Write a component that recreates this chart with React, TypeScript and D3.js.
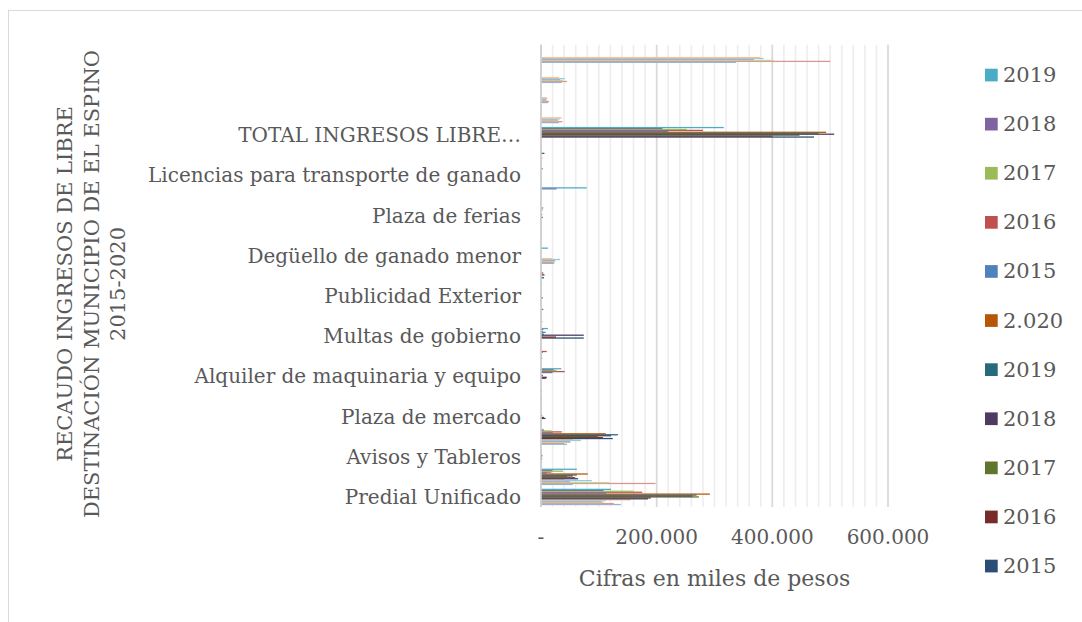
import React from 'react';
import * as d3 from 'd3';

// categorias de abajo hacia arriba (Excel solo muestra una de cada dos)
const categorias = [
  'Predial Unificado', '', 'Avisos y Tableros', '', 'Plaza de mercado', '',
  'Alquiler de maquinaria y equipo', '', 'Multas de gobierno', '', 'Publicidad Exterior', '',
  'Degüello de ganado menor', '', 'Plaza de ferias', '', 'Licencias para transporte de ganado', '',
  'TOTAL INGRESOS LIBRE…', '', '', '', '',
];

// serie: tonos claros (primeras en la grafica, abajo de cada grupo)
const claro2015 = [138000, 55000, 0, 45000, 0, 0, 0, 0, 0, 0, 0, 2000, 23000, 0, 0, 0, 0, 0, 0, 31000, 12000, 36000, 337000];
const claro2016 = [126000, 198000, 0, 40000, 0, 0, 0, 0, 0, 0, 0, 0, 22000, 0, 0, 0, 0, 0, 0, 37000, 14000, 45000, 500000];
const claro2017 = [108000, 118000, 2000, 52000, 0, 0, 0, 0, 0, 3000, 0, 0, 25000, 0, 0, 0, 0, 0, 0, 30000, 10000, 38000, 402000];
const claro2018 = [105000, 50000, 0, 50000, 0, 0, 0, 0, 0, 0, 0, 0, 24000, 0, 0, 0, 0, 0, 0, 29000, 9000, 33000, 368000];
const claro2019 = [112000, 88000, 1000, 69000, 0, 0, 0, 0, 0, 0, 0, 0, 33000, 0, 0, 0, 0, 0, 0, 33000, 11000, 41000, 385000];
const claro2020 = [155000, 40000, 0, 55000, 0, 0, 0, 0, 0, 0, 0, 0, 20000, 0, 0, 0, 0, 3000, 0, 36000, 10000, 31000, 379000];
// tonos oscuros
const oscuro2015 = [185000, 64000, 2000, 124000, 8000, 1000, 9000, 2000, 74000, 0, 3000, 5000, 0, 0, 3000, 0, 0, 0, 472000, 0, 0, 0, 0];
const oscuro2016 = [190000, 59000, 1000, 107000, 5000, 0, 10000, 0, 26000, 0, 0, 0, 0, 0, 0, 0, 0, 0, 400000, 0, 0, 0, 0];
const oscuro2017 = [273000, 45000, 0, 98000, 0, 0, 2000, 0, 3000, 0, 0, 0, 0, 0, 0, 0, 0, 0, 447000, 0, 0, 0, 0];
const oscuro2018 = [262000, 55000, 2500, 121000, 2000, 0, 3000, 1000, 74000, 0, 0, 6000, 0, 0, 2000, 0, 0, 0, 507000, 0, 0, 0, 0];
const oscuro2019 = [269000, 62000, 1500, 133000, 0, 0, 0, 0, 5000, 0, 0, 0, 0, 0, 0, 0, 0, 6000, 480000, 0, 0, 0, 0];
const oscuro2020 = [292000, 81000, 0, 112000, 0, 0, 0, 0, 2000, 0, 0, 4000, 0, 0, 0, 0, 0, 0, 493000, 0, 0, 0, 0];
// tonos base
const base2015 = [113000, 10000, 0, 20000, 0, 0, 20000, 3000, 8000, 0, 0, 0, 0, 0, 0, 0, 0, 0, 220000, 0, 0, 0, 0];
const base2016 = [175000, 18000, 1000, 36000, 0, 0, 41000, 10000, 3000, 0, 0, 0, 0, 0, 0, 0, 0, 0, 280000, 0, 0, 0, 0];
const base2017 = [160000, 38000, 0, 18000, 0, 2000, 27000, 0, 0, 0, 0, 0, 0, 0, 3000, 0, 0, 0, 252000, 0, 0, 0, 0];
const base2018 = [108000, 20000, 0, 5000, 0, 0, 22000, 0, 4000, 4000, 0, 0, 0, 0, 0, 27000, 3000, 0, 210000, 0, 0, 0, 0];
const base2019 = [121000, 62000, 0, 2000, 1500, 0, 35000, 0, 12000, 0, 0, 0, 12000, 0, 4000, 79000, 0, 0, 316000, 0, 0, 0, 0];

const series = [
  { name: '2015', color: '#95B3D7', values: claro2015 },
  { name: '2016', color: '#D99694', values: claro2016 },
  { name: '2017', color: '#C3D69B', values: claro2017 },
  { name: '2018', color: '#B3A2C7', values: claro2018 },
  { name: '2019', color: '#93CDDD', values: claro2019 },
  { name: '2.020', color: '#FAC090', values: claro2020 },
  { name: '2015', color: '#2C4D75', values: oscuro2015 },
  { name: '2016', color: '#772C2A', values: oscuro2016 },
  { name: '2017', color: '#5F7530', values: oscuro2017 },
  { name: '2018', color: '#4D3B62', values: oscuro2018 },
  { name: '2019', color: '#276A7C', values: oscuro2019 },
  { name: '2.020', color: '#B65708', values: oscuro2020 },
  { name: '2015', color: '#4F81BD', values: base2015 },
  { name: '2016', color: '#C0504D', values: base2016 },
  { name: '2017', color: '#9BBB59', values: base2017 },
  { name: '2018', color: '#8064A2', values: base2018 },
  { name: '2019', color: '#4BACC6', values: base2019 },
];

// la leyenda solo alcanza a mostrar 11 entradas (de arriba hacia abajo)
const leyenda = [16, 15, 14, 13, 12, 11, 10, 9, 8, 7, 6];

const ejeMax = 600000;
const tituloY = ['RECAUDO INGRESOS DE LIBRE', 'DESTINACIÓN MUNICIPIO DE EL ESPINO', '2015-2020'];

const font = '"DejaVu Serif", serif';
const gris = '#595959';

const fmt = d3.formatLocale({ decimal: ',', thousands: '.', grouping: [3], currency: ['', ''] }).format(',.0f');

export default function App() {
  const plot = { left: 541, right: 888, top: 44.7, bottom: 507 };

  const x = d3.scaleLinear().domain([0, ejeMax]).range([plot.left, plot.right]);
  const y = d3.scaleBand<number>()
    .domain(d3.range(categorias.length))
    .range([plot.bottom, plot.top]);
  const yS = d3.scaleBand<number>()
    .domain(d3.range(series.length))
    .range([y.bandwidth(), 0])
    .paddingOuter(2.1);
  const grosor = yS.bandwidth() * 1.35;

  const minor = d3.range(0, ejeMax + 1, 20000);
  const major = d3.range(0, ejeMax + 1, 200000);

  return (
    <svg width={1082} height={622} style={{ position: 'absolute', left: 0, top: 0, background: '#fff' }}>
      <rect x={8.5} y={10.5} width={1080} height={620} fill="#fff" stroke="#D9D9D9" />

      {minor.map(v => (
        <line key={'m' + v} x1={x(v)} x2={x(v)} y1={plot.top} y2={plot.bottom}
          stroke="#EDEDED" strokeWidth={1.6} />
      ))}
      {major.map(v => (
        <line key={'M' + v} x1={x(v)} x2={x(v)} y1={plot.top} y2={plot.bottom}
          stroke="#D9D9D9" strokeWidth={1.6} />
      ))}

      {series.map((s, k) => (
        <g key={k} fill={s.color}>
          {s.values.map((v, i) => v > 0 && (
            <rect key={i} x={x(0)} y={(y(i) ?? 0) + (yS(k) ?? 0) - (grosor - yS.bandwidth()) / 2}
              width={x(v) - x(0)} height={grosor} />
          ))}
        </g>
      ))}

      <line x1={x(0)} x2={x(0)} y1={plot.top} y2={plot.bottom} stroke="#D0D0D0" strokeWidth={1.6} />

      {categorias.map((c, i) => i % 2 === 0 && c && (
        <text key={i} x={521} y={(y(i) ?? 0) + y.bandwidth() / 2} textAnchor="end"
          dominantBaseline="central" fontFamily={font} fontSize={20} fill={gris}>{c}</text>
      ))}

      {major.map(v => (
        <text key={'t' + v} x={x(v)} y={537} textAnchor="middle" dominantBaseline="central"
          fontFamily={font} fontSize={20} fill={gris}>{v === 0 ? '-' : fmt(v)}</text>
      ))}

      <text x={(plot.left + plot.right) / 2} y={578} textAnchor="middle" dominantBaseline="central"
        fontFamily={font} fontSize={22} fill={gris}>Cifras en miles de pesos</text>

      {tituloY.map((t, i) => (
        <text key={i} transform={`translate(${65 + i * 26.5},284) rotate(-90)`} textAnchor="middle"
          dominantBaseline="central" fontFamily={font} fontSize={21} fill={gris}>{t}</text>
      ))}

      {leyenda.map((k, i) => (
        <g key={i} transform={`translate(985,${75 + i * 49.1})`}>
          <rect x={0} y={-6.3} width={12.7} height={12.7} fill={series[k].color} />
          <text x={18} y={0} dominantBaseline="central" fontFamily={font} fontSize={21} fill={gris}>
            {series[k].name}
          </text>
        </g>
      ))}
    </svg>
  );
}
